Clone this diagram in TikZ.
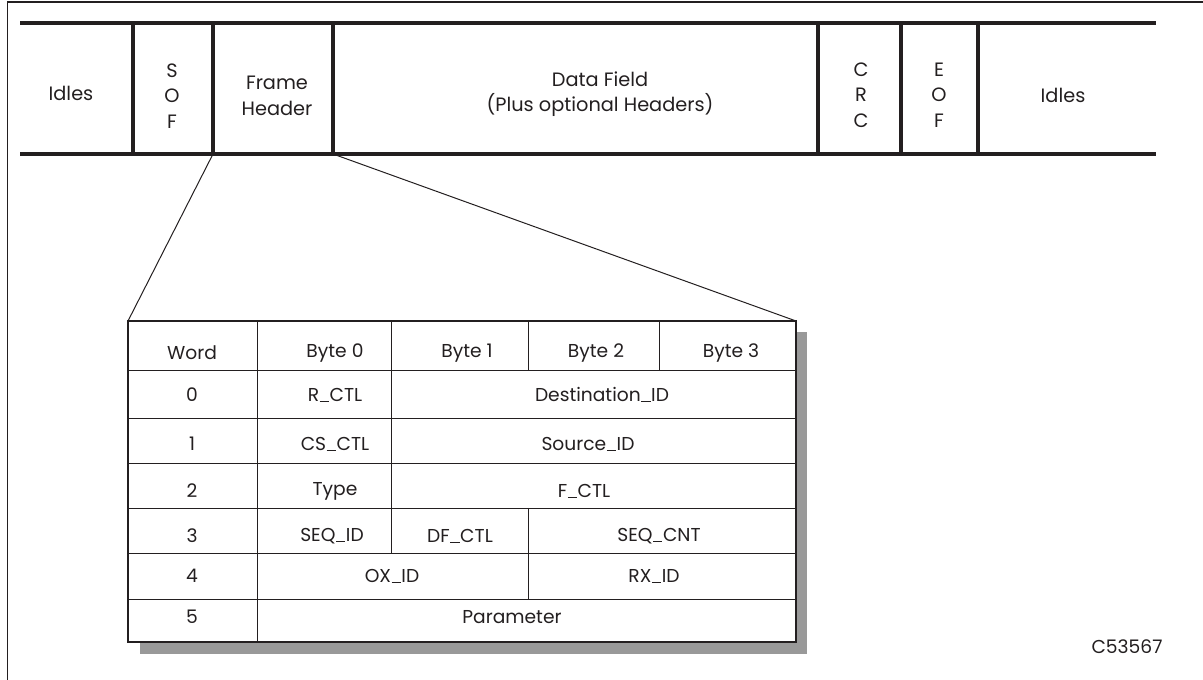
\documentclass[tikz,border=0pt]{standalone}
\usepackage{fontspec}
\setmainfont{Poppins}
\definecolor{inkc}{RGB}{35,31,32}
\definecolor{shadowc}{RGB}{153,153,153}
% a narrower underscore, resting on the baseline
\newcommand{\usc}{\kern0.03em\rule[-0.02em]{0.5em}{0.055em}\kern0.03em}
\begin{document}
\begin{tikzpicture}[x=0.75pt,y=-0.75pt,
  ink/.style={text=inkc},
  frameline/.style={draw=inkc,line width=2.4pt},
  tableedge/.style={draw=inkc,line width=2.2pt},
  gridline/.style={draw=inkc,line width=0.7pt},
  zoomline/.style={draw=inkc,line width=0.75pt},
  lbl/.style={ink,inner sep=0pt,align=center,font=\fontsize{14.5}{19}\selectfont},
  tlbl/.style={ink,inner sep=0pt,font=\fontsize{14}{16}\selectfont}]
\useasboundingbox (0,0) rectangle (1203,680);

% outer frame (top and left edges only)
\draw[draw=inkc,line width=1.1pt] (7.5,680) -- (7.5,2) -- (1203,2);

% ---- frame layout strip ----
\coordinate (stripTL) at (20,23);
\coordinate (stripTR) at (1156,23);
\coordinate (stripBL) at (20,154);
\coordinate (stripBR) at (1156,154);
\draw[frameline] (stripTL) -- (stripTR);
\draw[frameline] (stripBL) -- (stripBR);
\foreach \xx in {133,213,333,818,901,978}
  \draw[frameline] (\xx,23) -- (\xx,154);

\node[lbl] (idlesL) at (71,93) {Idles};
\node[lbl] (sof)    at (172,96) {S\\O\\F};
\node[lbl] (fhdr)   at (277,96) {Frame\\Header};
\node[lbl] (data)   at (600,94) {Data Field\\(Plus optional Headers)};
\node[lbl] (crc)    at (861,95) {C\\R\\C};
\node[lbl] (eof)    at (939,95) {E\\O\\F};
\node[lbl] (idlesR) at (1063,95) {Idles};

% corners of the frame header field
\coordinate (fhBL) at (213,154);
\coordinate (fhBR) at (333,154);

% ---- frame header table ----
\coordinate (tabTL) at (128,321);
\coordinate (tabTR) at (796,321);
\coordinate (tabBR) at (796,642);

% drop shadow
\fill[shadowc] (140,332) rectangle (807,654);
\fill[white] (tabTL) rectangle (tabBR);

% zoom lines from the header field to the table
\draw[zoomline] (fhBL) -- (tabTL);
\draw[zoomline] (fhBR) -- (tabTR);

% row separators
\foreach \yy in {370,418,463,508,553,599}
  \draw[gridline] (128,\yy) -- (796,\yy);
% column separators
\draw[gridline] (257,321) -- (257,642);
\draw[gridline] (391,321) -- (391,553);
\draw[gridline] (528,321) -- (528,370);
\draw[gridline] (528,508) -- (528,599);
\draw[gridline] (659,321) -- (659,370);

\draw[tableedge] (tabTL) rectangle (tabBR);

% header row
\node[tlbl] (hWord) at (192,353) {Word};
\node[tlbl] (hB0)   at (335,353) {Byte 0};
\node[tlbl] (hB1)   at (467,353) {Byte 1};
\node[tlbl] (hB2)   at (596,353) {Byte 2};
\node[tlbl] (hB3)   at (731,353) {Byte 3};
% word 0
\node[tlbl] (w0)    at (192,395) {0};
\node[tlbl] (rctl)  at (335,395) {R\usc CTL};
\node[tlbl] (did)   at (602,395) {Destination\usc ID};
% word 1
\node[tlbl] (w1)    at (192,444) {1};
\node[tlbl] (csctl) at (335,444) {CS\usc CTL};
\node[tlbl] (sid)   at (588,444) {Source\usc ID};
% word 2
\node[tlbl] (w2)    at (192,491) {2};
\node[tlbl] (type)  at (335,491) {Type};
\node[tlbl] (fctl)  at (584,491) {F\usc CTL};
% word 3
\node[tlbl] (w3)    at (192,536) {3};
\node[tlbl] (seqid) at (332,536) {SEQ\usc ID};
\node[tlbl] (dfctl) at (460,536) {DF\usc CTL};
\node[tlbl] (seqcnt) at (659,536) {SEQ\usc CNT};
% word 4
\node[tlbl] (w4)    at (192,576) {4};
\node[tlbl] (oxid)  at (392,576) {OX\usc ID};
\node[tlbl] (rxid)  at (654,576) {RX\usc ID};
% word 5
\node[tlbl] (w5)    at (192,617) {5};
\node[tlbl] (param) at (512,617) {Parameter};

\node[tlbl] (figid) at (1127,647) {C53567};
\end{tikzpicture}
\end{document}
